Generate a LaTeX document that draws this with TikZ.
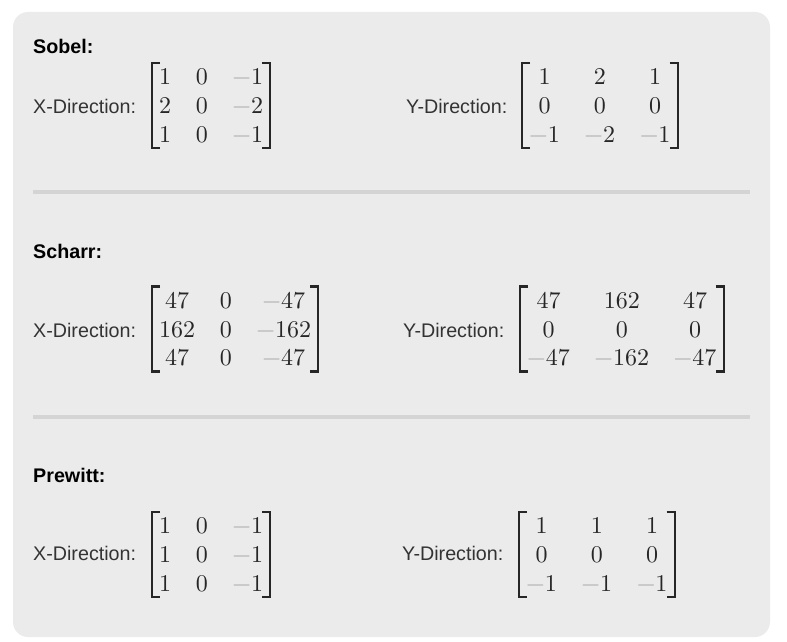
\documentclass[tikz,border=0pt]{standalone}
\usepackage{fontspec}
\setmainfont{Liberation Sans}
\newfontfamily\lmten{lmroman10-regular}[Extension=.otf]
\usetikzlibrary{matrix}
\definecolor{panel}{HTML}{EBEBEB}
\definecolor{sepcol}{HTML}{D4D4D4}
\definecolor{txt}{HTML}{333333}
\definecolor{numcol}{HTML}{262626}
\definecolor{mgray}{HTML}{A8A8A8}
\newcommand\lmnum{\lmten\fontsize{24}{28.8}\selectfont}
\newcommand\mneg{{\color{mgray}−}}
\tikzset{
  head/.style={anchor=base west, inner sep=0pt, font=\fontsize{19.7}{24}\selectfont\bfseries, text=black},
  lab/.style={anchor=base west, inner sep=0pt, font=\fontsize{19.7}{24}\selectfont, text=txt},
  kmat/.style={matrix of nodes, anchor=west, inner sep=0pt, column sep=24.6pt, row sep=6.8pt,
    nodes={inner sep=0pt, text height=17pt, text depth=5pt, font=\lmnum, text=numcol}},
  brk/.style={draw=numcol, line width=2.2pt, line join=miter, line cap=butt},
}
\newcommand\brackets[1]{%
  \draw[brk] (#1.west) ++(1,-44.5) -- ++(-8,0) -- ++(0,85) -- ++(8,0);
  \draw[brk] (#1.east) ++(-1,-44.5) -- ++(8,0) -- ++(0,85) -- ++(-8,0);
}
\begin{document}
\begin{tikzpicture}[x=1pt,y=-1pt]
\useasboundingbox (0,0) rectangle (787,642);
\fill[panel, rounded corners=15pt] (13,12) rectangle (770,637);
\fill[sepcol] (33,190) rectangle (750,194);
\fill[sepcol] (33,415) rectangle (750,419);

% Sobel
\node[head] (sobh) at (33,54) {Sobel:};
\node[lab] (sobxl) at (33,113) {X-Direction:};
\matrix[kmat] (sobxm) at (159,107.5) {1 & 0 & \mneg1 \\ 2 & 0 & \mneg2 \\ 1 & 0 & \mneg1 \\};
\node[lab] (sobyl) at (406,113) {Y-Direction:};
\matrix[kmat] (sobym) at (529,107.5) {1 & 2 & 1 \\ 0 & 0 & 0 \\ \mneg1 & \mneg2 & \mneg1 \\};
\brackets{sobxm}
\brackets{sobym}

% Scharr
\node[head] (schh) at (33,258) {Scharr:};
\node[lab] (schxl) at (33,337) {X-Direction:};
\matrix[kmat] (schxm) at (159,331) {47 & 0 & \mneg47 \\ 162 & 0 & \mneg162 \\ 47 & 0 & \mneg47 \\};
\node[lab] (schyl) at (403,337) {Y-Direction:};
\matrix[kmat] (schym) at (527,331) {47 & 162 & 47 \\ 0 & 0 & 0 \\ \mneg47 & \mneg162 & \mneg47 \\};
\brackets{schxm}
\brackets{schym}

% Prewitt
\node[head] (preh) at (33,482) {Prewitt:};
\node[lab] (prexl) at (33,560) {X-Direction:};
\matrix[kmat] (prexm) at (159,556.5) {1 & 0 & \mneg1 \\ 1 & 0 & \mneg1 \\ 1 & 0 & \mneg1 \\};
\node[lab] (preyl) at (402,560) {Y-Direction:};
\matrix[kmat] (preym) at (526,556.5) {1 & 1 & 1 \\ 0 & 0 & 0 \\ \mneg1 & \mneg1 & \mneg1 \\};
\brackets{prexm}
\brackets{preym}
\end{tikzpicture}
\end{document}
